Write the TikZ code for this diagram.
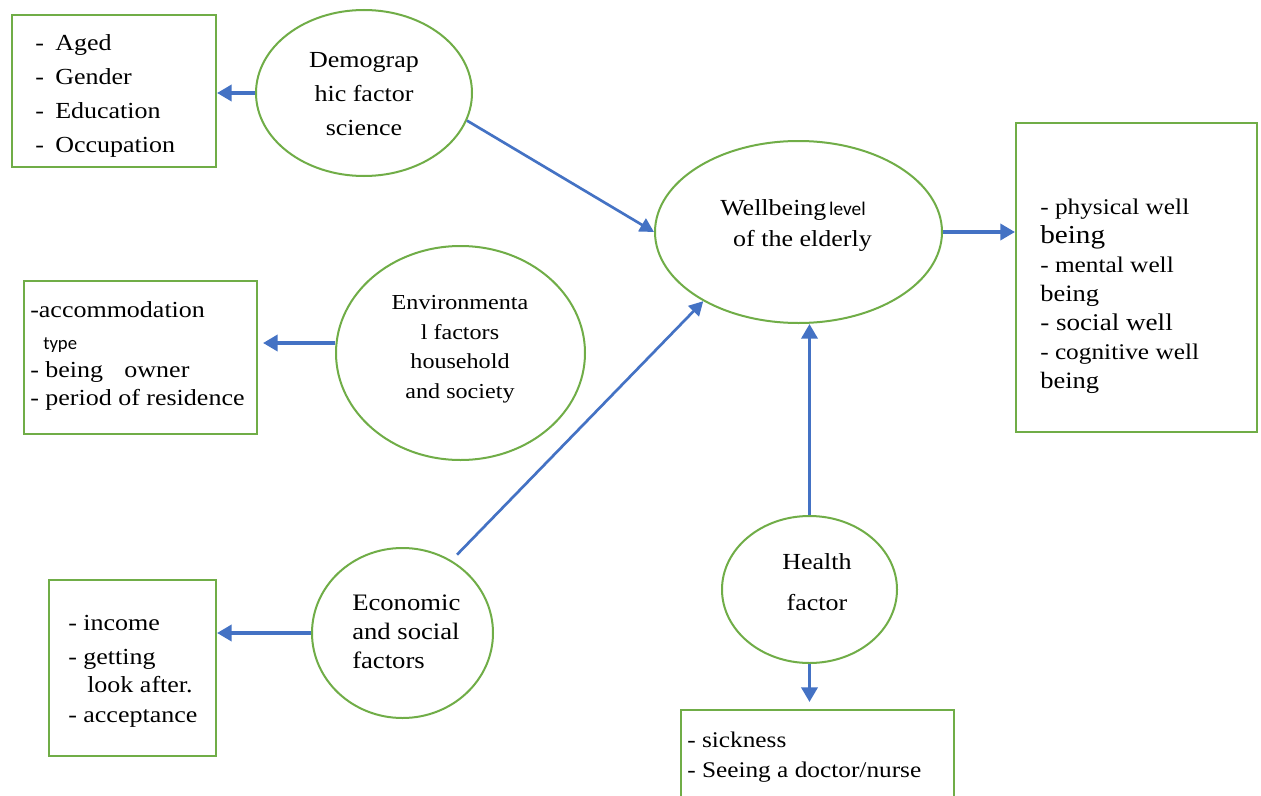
\documentclass[tikz,border=0pt]{standalone}
\usepackage{fontspec}
\setmainfont{Liberation Serif}[FakeStretch=1.13]
\newfontfamily\carl{Carlito}
\usetikzlibrary{arrows.meta,shapes.geometric}
\definecolor{grn}{RGB}{112,173,71}
\definecolor{blu}{RGB}{68,114,196}
\tikzset{
  oval/.style={draw=grn, line width=1.5pt, ellipse, inner sep=0pt},
  boxst/.style={draw=grn, line width=1.5pt, rectangle, inner sep=0pt},
  tx/.style={inner sep=0pt, align=left, font=\fontsize{17.25}{25.3}\selectfont},
  arr/.style={draw=blu, line width=2.7pt, -{Triangle[length=11pt,width=12pt]}},
  darr/.style={draw=blu, line width=2pt, -{Triangle[length=10.5pt,width=11pt]}}
}
\newcommand{\dsh}{\makebox[15pt][l]{-}}
\begin{document}
\begin{tikzpicture}[x=0.75pt,y=-0.75pt]
\clip (0,0) rectangle (1261,796);
\fill[white] (0,0) rectangle (1261,796);
% ellipses
\node[oval, minimum width=162pt, minimum height=124.5pt] (demo) at (364,93) {};
\node[oval, minimum width=215.25pt, minimum height=136.5pt] (well) at (798.5,232) {};
\node[oval, minimum width=186.75pt, minimum height=160.5pt] (env) at (460.5,353) {};
\node[oval, minimum width=135.75pt, minimum height=127.5pt] (econ) at (402.5,633) {};
\node[oval, minimum width=131.25pt, minimum height=110.25pt] (hlth) at (809.5,589.5) {};
% boxes
\node[boxst, minimum width=153pt, minimum height=114pt] (b1) at (114,91) {};
\node[boxst, minimum width=174.75pt, minimum height=114.75pt] (b2) at (140.5,357.5) {};
\node[boxst, minimum width=125.25pt, minimum height=132pt] (b3) at (132.5,668) {};
\node[boxst, minimum width=204.75pt, minimum height=90pt] (b4) at (817.5,770) {};
\node[boxst, minimum width=180.75pt, minimum height=231.75pt] (b5) at (1136.5,277.5) {};
% texts (anchored at the baseline of their last line)
\node[tx, anchor=base west] (t1) at (35,152) {\dsh Aged\\\dsh Gender\\\dsh Education\\\dsh Occupation};
\node[tx, align=center, anchor=base] (tdemo) at (364,135) {Demograp\\hic factor\\science};
\node[tx, anchor=base west] (twell) at (720,215) {Wellbeing\hspace{2pt}{\carl\fontsize{14.5}{15}\selectfont level}};
\node[tx, anchor=base] (twell2) at (802.5,246) {of the elderly};
\node[tx, align=center, anchor=base, font=\fontsize{16}{22.1}\selectfont] (tenv) at (460,398) {Environmenta\\l factors\\household\\and society};
\node[tx, anchor=base west, font=\fontsize{17.25}{21}\selectfont] (t2) at (30,405) {-accommodation\\[3pt]\hspace{9.75pt}{\carl\fontsize{14}{15}\selectfont type}\\- being\hspace{16pt}owner\\- period of residence};
\node[tx, anchor=base west, font=\fontsize{17.25}{21.75}\selectfont] (t3) at (68,722) {- income\\[3.75pt]- getting\\[-0.75pt]\hspace{14.25pt}look after.\\[0.75pt]- acceptance};
\node[tx, anchor=base west, font=\fontsize{17.7}{21.75}\selectfont] (tecon) at (352,668) {Economic\\and social\\factors};
\node[tx, align=center, anchor=base, font=\fontsize{17.25}{30.75}\selectfont] (thlth) at (817,610) {Health\\factor};
\node[tx, anchor=base west, font=\fontsize{16.8}{22.5}\selectfont] (t4) at (687,777) {- sickness\\- Seeing a doctor/nurse};
\node[tx, anchor=base west, font=\fontsize{16.8}{21.75}\selectfont] (t5) at (1040,388) {- physical well\\{\fontsize{19.4}{21.75}\selectfont being}\\- mental well\\{\fontsize{17.6}{21.75}\selectfont being}\\{\fontsize{18}{21.75}\selectfont - social well}\\- cognitive well\\{\fontsize{17.6}{21.75}\selectfont being}};
% connectors
\draw[arr] (demo.west) -- (demo.west -| b1.east);
\draw[arr] ([yshift=7.5pt]env.west) -- ([yshift=7.5pt,xshift=3.75pt]env.west -| b2.east);
\draw[arr] (econ.west) -- (econ.west -| b3.east);
\draw[darr] (demo.-15) -- (well.west);
\draw[darr, shorten <=6pt] (econ.56) -- (well.216);
\draw[arr] (hlth.north) -- (hlth.north |- well.south);
\draw[arr, shorten >=5.25pt] (hlth.south) -- (hlth.south |- b4.north);
\draw[arr] (well.east) -- (b5.west |- well.east);
\end{tikzpicture}
\end{document}
